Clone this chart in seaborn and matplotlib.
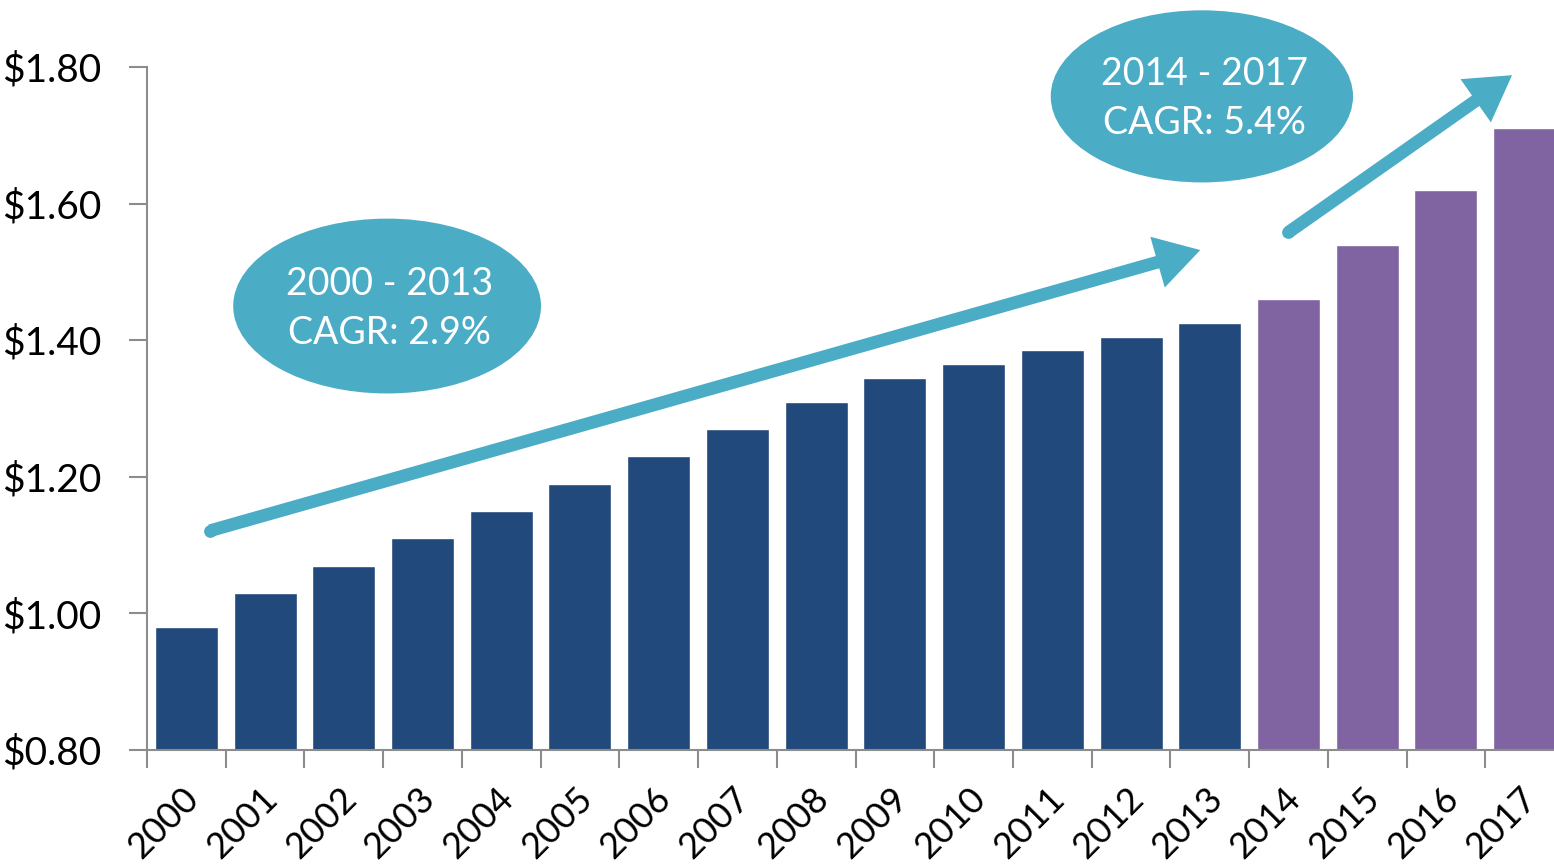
import matplotlib
matplotlib.use('Agg')
import matplotlib.pyplot as plt
from matplotlib.patches import Ellipse
from matplotlib.transforms import ScaledTranslation
import numpy as np
import pandas as pd
import seaborn as sns

years = [str(y) for y in range(2000, 2018)]
values = [0.98, 1.03, 1.07, 1.11, 1.15, 1.19, 1.23, 1.27, 1.31, 1.345,
          1.365, 1.385, 1.405, 1.425, 1.46, 1.54, 1.62, 1.71]
periods = ['2000-2013'] * 14 + ['2014-2017'] * 4
yticks = [0.80, 1.00, 1.20, 1.40, 1.60, 1.80]
ytick_labels = [r'\$0.80', r'\$1.00', r'\$1.20', r'\$1.40', r'\$1.60', r'\$1.80']
bubble1 = '2000 - 2013\nCAGR: 2.9%'
bubble2 = '2014 - 2017\nCAGR: 5.4%'

navy = '#21497C'
purple = '#8064A2'
teal = '#4BACC6'
grey = '#8C8C8C'

sns.set_theme(style='white')
plt.rcParams['font.family'] = ['Lato', 'DejaVu Sans']

df = pd.DataFrame({'year': years, 'value': values, 'period': periods})

fig = plt.figure(figsize=(15.54, 8.67), dpi=100)
ax = fig.add_axes([147 / 1554, 117 / 867, (1554 - 147) / 1554, 683 / 867])

sns.barplot(data=df, x='year', y='value', hue='period',
            palette={'2000-2013': navy, '2014-2017': purple},
            dodge=False, legend=False, width=0.8, saturation=1, ax=ax)

ax.set_ylim(0.80, 1.80)
ax.set_xlim(-0.5, 17.5 - 10 / 78.7)
ax.set_xlabel('')
ax.set_ylabel('')

ax.set_yticks(yticks)
ax.set_yticklabels(ytick_labels)
ax.tick_params(axis='y', which='major', length=13, width=1.5, color=grey,
               direction='out', left=True, labelsize=28, pad=20, labelcolor='black')

ax.set_xticks(range(len(years)))
ax.set_xticklabels(years)
ax.set_xticks(np.arange(-0.5, len(years) - 1, 1), minor=True)
ax.tick_params(axis='x', which='major', length=0, labelsize=26, pad=31, labelcolor='black')
ax.tick_params(axis='x', which='minor', length=13, width=1.5, color=grey,
               direction='out', bottom=True)
for lab in ax.get_xticklabels():
    lab.set_rotation(45)
    lab.set_ha('right')
    lab.set_va('center')
    lab.set_rotation_mode('anchor')
    lab.set_transform(lab.get_transform() + ScaledTranslation(0.07, 0, fig.dpi_scale_trans))

for s in ['top', 'right']:
    ax.spines[s].set_visible(False)
for s in ['left', 'bottom']:
    ax.spines[s].set_color(grey)
    ax.spines[s].set_linewidth(1.5)

# arrows
arrow_style = 'simple,head_length=0.8,head_width=0.95,tail_width=0.23'
for (x0, y0), (x1, y1) in [((0.30, 1.121), (12.88, 1.532)), ((14.0, 1.558), (16.84, 1.788))]:
    ax.annotate('', xy=(x1, y1), xytext=(x0, y0),
                arrowprops=dict(arrowstyle=arrow_style, color=teal, lw=0,
                                mutation_scale=40, shrinkA=0, shrinkB=0),
                annotation_clip=False)
    ax.plot([x0], [y0], marker='o', markersize=9.2, color=teal, markeredgewidth=0, clip_on=False)

# bubbles
for (cx, cy), w, h, txt in [((2.55, 1.45), 3.91, 0.256, bubble1),
                             ((12.9, 1.757), 3.84, 0.252, bubble2)]:
    e = Ellipse((cx, cy), w, h, facecolor=teal, edgecolor='none', clip_on=False, zorder=5)
    ax.add_patch(e)
    ax.text(cx + 0.03, cy - 0.003, txt, color='white', fontsize=27, ha='center', va='center',
            linespacing=1.45, zorder=6)

fig.savefig('out.png', dpi=100)
